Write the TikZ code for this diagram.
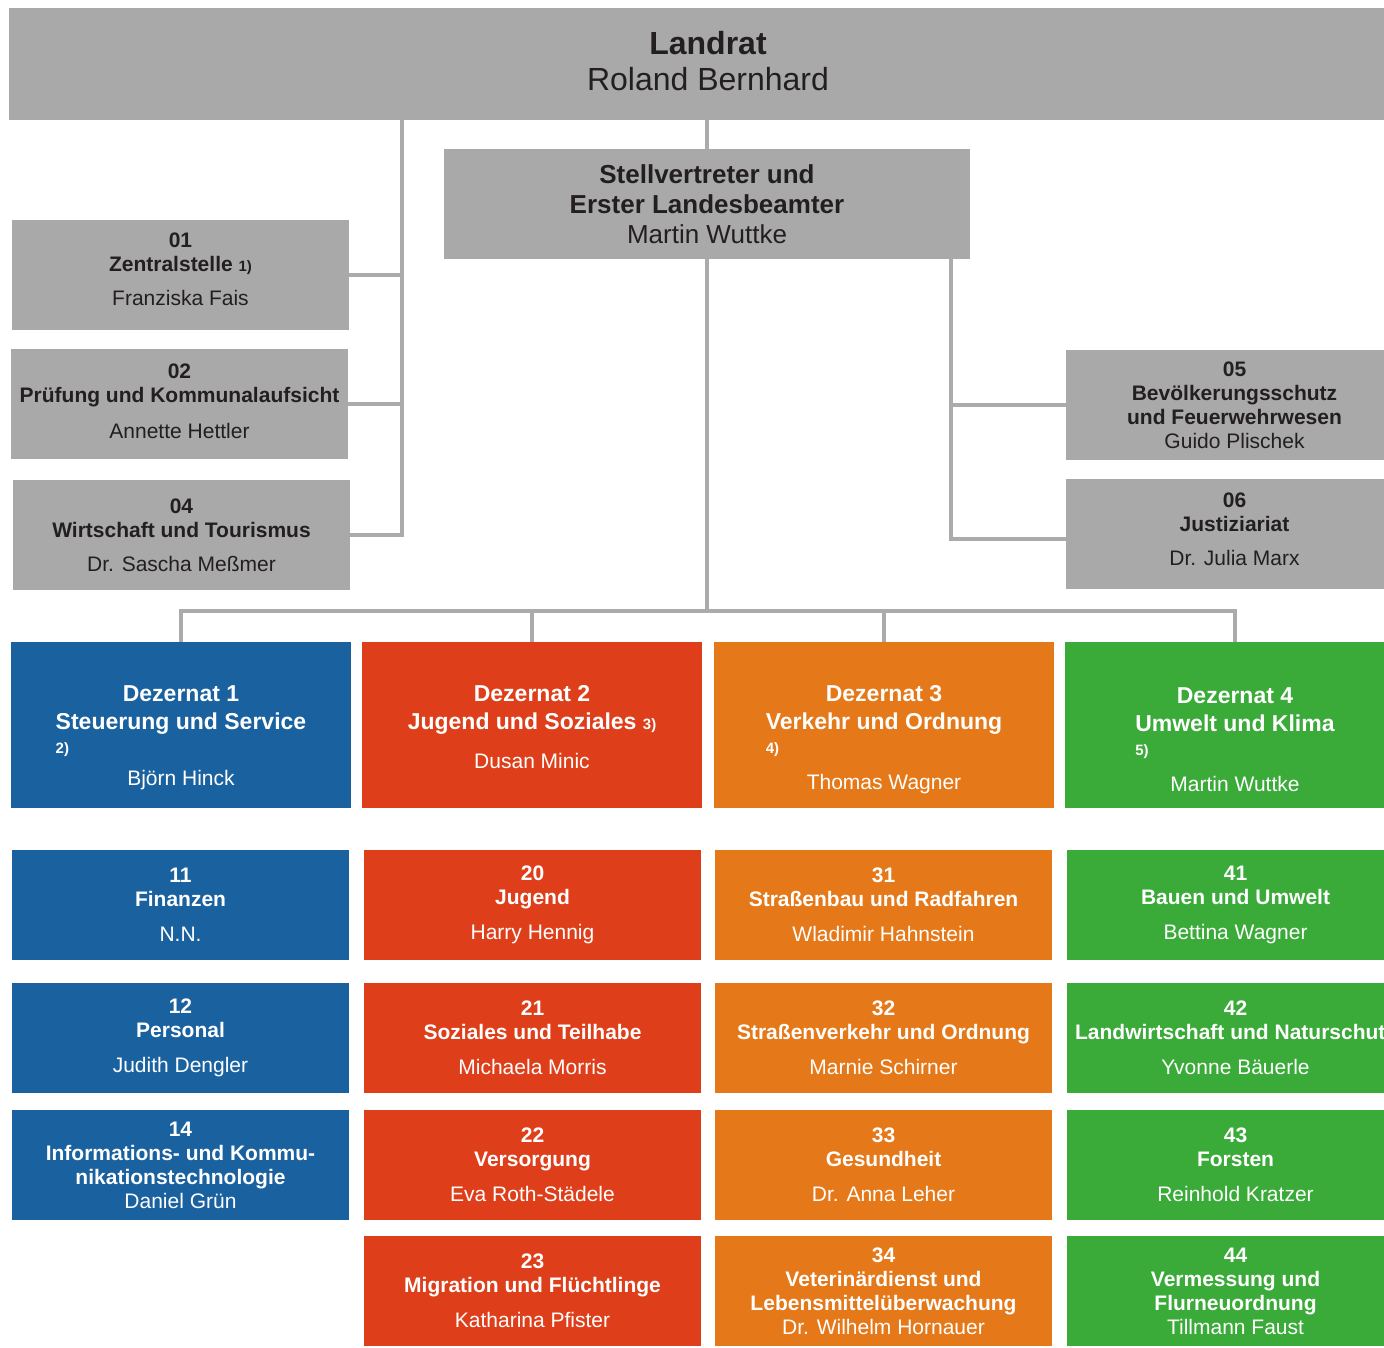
\documentclass[tikz,border=0pt]{standalone}
\usepackage{fontspec}
\setmainfont{Liberation Sans}
\usepackage{xcolor}
\usepackage{tikz}
\definecolor{boxgray}{HTML}{A9A9A9}
\definecolor{linegray}{HTML}{ABABAB}
\definecolor{txtgray}{HTML}{231F20}
\definecolor{dzblue}{HTML}{1A61A0}
\definecolor{dzred}{HTML}{DE3F1A}
\definecolor{dzorange}{HTML}{E57818}
\definecolor{dzgreen}{HTML}{3AAA38}
\newcommand{\fnmark}[1]{{\bfseries\fontsize{7.5}{9}\selectfont #1}}
\newcommand{\persname}[1]{{\fontsize{10.5}{14}\selectfont #1}}
% footnote mark under the start of a title line
\newcommand{\fnline}[2]{\rlap{\fnmark{#2}}\hphantom{\bfseries #1}}

\begin{document}
\begin{tikzpicture}[x=0.5pt,y=-0.5pt,
        unit/.style={inner sep=0pt,align=center,minimum width=168.5pt,minimum height=55pt,font=\fontsize{10.5}{12}\selectfont},
        grayunit/.style={unit,fill=boxgray,text=txtgray},
        colunit/.style={unit,text=white},
        dezbox/.style={inner sep=0pt,align=center,minimum width=170pt,minimum height=83pt,text=white,font=\fontsize{11.5}{14}\selectfont},
        link/.style={draw=linegray,line width=2pt}]
        \useasboundingbox (0,0) rectangle (1384,1347);
        % Leitung
        \node[fill=boxgray,text=txtgray,inner sep=0pt,minimum width=699pt,minimum height=56pt,align=center,font=\fontsize{16}{18}\selectfont] (landrat) at (708,64) {\textbf{Landrat}\\Roland Bernhard\rule[-3pt]{0pt}{1pt}};
        \node[fill=boxgray,text=txtgray,inner sep=0pt,minimum width=263pt,minimum height=55pt,align=center,font=\fontsize{13}{15}\selectfont] (stell) at (707,204) {\textbf{Stellvertreter und}\\\textbf{Erster Landesbeamter}\\Martin Wuttke};
        % Stabsstellen
        \node[grayunit] (z01) at (180.5,275) {\textbf{01}\\\textbf{Zentralstelle} \fnmark{1)}\\[5pt]Franziska Fais\rule[-5.5pt]{0pt}{1pt}};
        \node[grayunit] (z02) at (179.5,404) {\textbf{02}\\\textbf{Prüfung und Kommunalaufsicht}\\[6pt]Annette Hettler\rule[-3pt]{0pt}{1pt}};
        \node[grayunit] (z04) at (181.5,535) {\textbf{04}\\\textbf{Wirtschaft und Tourismus}\\[5pt]Dr. Sascha Meßmer};
        \node[grayunit] (z05) at (1234.5,405) {\textbf{05}\\\textbf{Bevölkerungsschutz}\\\textbf{und Feuerwehrwesen}\\Guido Plischek};
        \node[grayunit] (z06) at (1234.5,534) {\textbf{06}\\\textbf{Justiziariat}\\[5pt]Dr. Julia Marx\rule[-5pt]{0pt}{1pt}};
        % Dezernate
        \node[dezbox,fill=dzblue] (d1) at (181,725) {\rule{0pt}{21pt}\textbf{Dezernat 1}\\\textbf{Steuerung und Service}\\[-2pt]\fnline{Steuerung und Service}{2)}\\[2pt]\persname{Björn Hinck}};
        \node[dezbox,fill=dzred] (d2) at (532,725) {\rule{0pt}{10.5pt}\textbf{Dezernat 2}\\\textbf{Jugend und Soziales} \fnmark{3)}\\[5.5pt]\persname{Dusan Minic}};
        \node[dezbox,fill=dzorange] (d3) at (884,725) {\rule{0pt}{23pt}\textbf{Dezernat 3}\\\textbf{Verkehr und Ordnung}\\[-2pt]\fnline{Verkehr und Ordnung}{4)}\\[4pt]\persname{Thomas Wagner}};
        \node[dezbox,fill=dzgreen] (d4) at (1235,725) {\rule{0pt}{23pt}\textbf{Dezernat 4}\\\textbf{Umwelt und Klima}\\[-2pt]\fnline{Umwelt und Klima}{5)}\\[4pt]\persname{Martin Wuttke}};
        % Aemter Dezernat 1
        \node[colunit,fill=dzblue] (a11) at (180.5,905) {\textbf{11}\\\textbf{Finanzen}\\[5.5pt]N.N.};
        \node[colunit,fill=dzblue] (a12) at (180.5,1038) {\textbf{12}\\\textbf{Personal}\\[5.5pt]Judith Dengler};
        \node[colunit,fill=dzblue] (a14) at (180.5,1165) {\textbf{14}\\\textbf{Informations- und Kommu-}\\\textbf{nikationstechnologie}\\Daniel Grün};
        % Aemter Dezernat 2
        \node[colunit,fill=dzred] (a20) at (532.5,905) {\textbf{20}\\\textbf{Jugend}\\[5.5pt]Harry Hennig};
        \node[colunit,fill=dzred] (a21) at (532.5,1038) {\textbf{21}\\\textbf{Soziales und Teilhabe}\\[5.5pt]Michaela Morris};
        \node[colunit,fill=dzred] (a22) at (532.5,1165) {\textbf{22}\\\textbf{Versorgung}\\[5.5pt]Eva Roth-Städele};
        \node[colunit,fill=dzred] (a23) at (532.5,1291) {\textbf{23}\\\textbf{Migration und Flüchtlinge}\\[5.5pt]Katharina Pfister};
        % Aemter Dezernat 3
        \node[colunit,fill=dzorange] (a31) at (883.5,905) {\textbf{31}\\\textbf{Straßenbau und Radfahren}\\[5.5pt]Wladimir Hahnstein};
        \node[colunit,fill=dzorange] (a32) at (883.5,1038) {\textbf{32}\\\textbf{Straßenverkehr und Ordnung}\\[5.5pt]Marnie Schirner};
        \node[colunit,fill=dzorange] (a33) at (883.5,1165) {\textbf{33}\\\textbf{Gesundheit}\\[5.5pt]Dr. Anna Leher};
        \node[colunit,fill=dzorange] (a34) at (883.5,1291) {\textbf{34}\\\textbf{Veterinärdienst und}\\\textbf{Lebensmittelüberwachung}\\Dr. Wilhelm Hornauer};
        % Aemter Dezernat 4
        \node[colunit,fill=dzgreen] (a41) at (1235.5,905) {\textbf{41}\\\textbf{Bauen und Umwelt}\\[5.5pt]Bettina Wagner};
        \node[colunit,fill=dzgreen] (a42) at (1235.5,1038) {\textbf{42}\\\textbf{Landwirtschaft und Naturschutz}\\[5.5pt]Yvonne Bäuerle};
        \node[colunit,fill=dzgreen] (a43) at (1235.5,1165) {\textbf{43}\\\textbf{Forsten}\\[5.5pt]Reinhold Kratzer};
        \node[colunit,fill=dzgreen] (a44) at (1235.5,1291) {\textbf{44}\\\textbf{Vermessung und}\\\textbf{Flurneuordnung}\\Tillmann Faust};
        % Linien
        \coordinate (lbus) at (402,0);
        \coordinate (rbus) at (951,0);
        \coordinate (hbus) at (0,611);
        \draw[link] (stell.north) -- (stell.north |- landrat.south);
        \draw[link] (lbus |- landrat.south) -- (lbus |- z04.east) -- (z04.east);
        \draw[link] (z01.east) -- (z01.east -| lbus);
        \draw[link] (z02.east) -- (z02.east -| lbus);
        \draw[link] (rbus |- stell.south) -- ([yshift=-2.5pt]rbus |- z06.west) -- ([yshift=-2.5pt]z06.west);
        \draw[link] (z05.west) -- (z05.west -| rbus);
        \draw[link] (stell.south) -- (stell.south |- hbus);
        \draw[link] (d1.north) -- (d1.north |- hbus) -- (d4.north |- hbus) -- (d4.north);
        \draw[link] (d2.north) -- (d2.north |- hbus);
        \draw[link] (d3.north) -- (d3.north |- hbus);
\end{tikzpicture}
\end{document}
